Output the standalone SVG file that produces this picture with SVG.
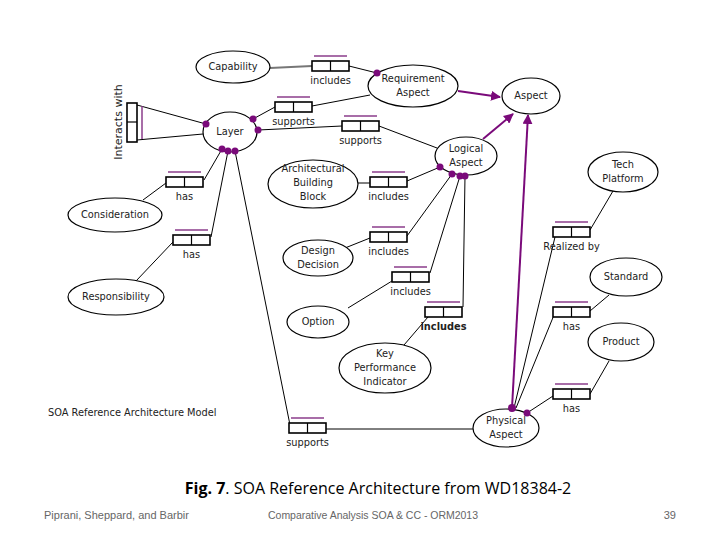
<svg xmlns="http://www.w3.org/2000/svg" width="720" height="540" viewBox="0 0 720 540">
<style>
.n ellipse{fill:#fff;stroke:#000;stroke-width:1.2}
.t{font-family:"DejaVu Sans",sans-serif;font-size:9.8px;fill:#222;text-anchor:middle}
.b rect{fill:#fff;stroke:#000;stroke-width:1.6}
.b line.d{stroke:#000;stroke-width:1.2}
.b line.p{stroke:#8b3c8b;stroke-width:1.5}
.c line,.c polyline{stroke:#000;stroke-width:1;fill:none}
.c .pu{stroke:#7a0a7a;stroke-width:2}
.dot{fill:#7a0a7a}
</style>
<defs>
<marker id="ah" viewBox="0 0 10 10" refX="9" refY="5" markerWidth="5" markerHeight="5" orient="auto" markerUnits="strokeWidth"><path d="M0,0 L10,5 L0,10 z" fill="#7a0a7a"/></marker>
</defs>
<rect width="720" height="540" fill="#fff"/>

<g id="connectors" class="c">
<line x1="270" y1="68" x2="312" y2="66" style="stroke:#777;stroke-width:2.2"/>
<line x1="349" y1="66" x2="377" y2="73"/>
<line x1="253" y1="119" x2="275" y2="107"/>
<line x1="312" y1="106" x2="370" y2="95"/>
<line x1="258" y1="130" x2="342" y2="126"/>
<line x1="379" y1="126" x2="437" y2="148"/>
<line x1="137" y1="105" x2="206" y2="124"/>
<line x1="137" y1="140" x2="203" y2="134"/>
<line x1="222" y1="149" x2="204" y2="180"/>
<line x1="166" y1="183" x2="143" y2="200"/>
<line x1="228" y1="151" x2="211" y2="237"/>
<line x1="173" y1="242" x2="136" y2="281"/>
<line x1="235" y1="151" x2="290" y2="425"/>
<line x1="326" y1="429" x2="473" y2="429"/>
<line x1="358" y1="183" x2="370" y2="183"/>
<line x1="407" y1="181" x2="440" y2="167"/>
<line x1="345" y1="248" x2="370" y2="238"/>
<line x1="407" y1="236" x2="452" y2="174"/>
<line x1="430" y1="273" x2="460" y2="176"/>
<line x1="392" y1="281" x2="348" y2="308"/>
<line x1="465" y1="176" x2="463" y2="307"/>
<line x1="428" y1="317" x2="404" y2="345"/>
<line x1="590" y1="230" x2="613" y2="191"/>
<line x1="555" y1="237" x2="514" y2="408"/>
<line x1="590" y1="311" x2="609" y2="295"/>
<line x1="554" y1="315" x2="516" y2="408"/>
<line x1="590" y1="394" x2="609" y2="361"/>
<line x1="553" y1="396" x2="527" y2="413"/>
<line class="pu" x1="458" y1="91" x2="500" y2="97" marker-end="url(#ah)"/>
<line class="pu" x1="483" y1="139" x2="513" y2="114" marker-end="url(#ah)"/>
<line class="pu" x1="512" y1="408" x2="528" y2="115" marker-end="url(#ah)"/>
</g>

<g id="capability" class="n"><ellipse cx="233" cy="67" rx="37" ry="16"/><text class="t" x="233" y="70">Capability</text></g>
<g id="layer" class="n"><ellipse cx="230" cy="132" rx="27" ry="20"/><text class="t" x="230" y="135">Layer</text></g>
<g id="requirement-aspect" class="n"><ellipse cx="413" cy="86" rx="45" ry="21"/><text class="t" x="413" y="82">Requirement</text><text class="t" x="413" y="96">Aspect</text></g>
<g id="aspect" class="n"><ellipse cx="531" cy="96" rx="29" ry="18"/><text class="t" x="531" y="99">Aspect</text></g>
<g id="logical-aspect" class="n"><ellipse cx="466" cy="156" rx="31" ry="19"/><text class="t" x="466" y="152">Logical</text><text class="t" x="466" y="166">Aspect</text></g>
<g id="abb" class="n"><ellipse cx="313" cy="184" rx="45" ry="24"/><text class="t" x="313" y="172">Architectural</text><text class="t" x="313" y="186">Building</text><text class="t" x="313" y="200">Block</text></g>
<g id="design-decision" class="n"><ellipse cx="318" cy="258" rx="35" ry="18"/><text class="t" x="318" y="254">Design</text><text class="t" x="318" y="268">Decision</text></g>
<g id="option" class="n"><ellipse cx="318" cy="322" rx="31" ry="16"/><text class="t" x="318" y="325">Option</text></g>
<g id="kpi" class="n"><ellipse cx="385" cy="368" rx="46" ry="25"/><text class="t" x="385" y="357">Key</text><text class="t" x="385" y="371">Performance</text><text class="t" x="385" y="385">Indicator</text></g>
<g id="physical-aspect" class="n"><ellipse cx="506" cy="428" rx="33" ry="19"/><text class="t" x="506" y="424">Physical</text><text class="t" x="506" y="438">Aspect</text></g>
<g id="consideration" class="n"><ellipse cx="115" cy="215" rx="47" ry="17"/><text class="t" x="115" y="218">Consideration</text></g>
<g id="responsibility" class="n"><ellipse cx="116" cy="297" rx="48" ry="18"/><text class="t" x="116" y="300">Responsibility</text></g>
<g id="tech-platform" class="n"><ellipse cx="623" cy="172" rx="35" ry="20"/><text class="t" x="623" y="168">Tech</text><text class="t" x="623" y="182">Platform</text></g>
<g id="standard" class="n"><ellipse cx="626" cy="277" rx="36" ry="19"/><text class="t" x="626" y="280">Standard</text></g>
<g id="product" class="n"><ellipse cx="621" cy="342" rx="33" ry="19"/><text class="t" x="621" y="345">Product</text></g>

<g id="interacts-with" class="b">
<rect x="127" y="103" width="10" height="39"/><line class="d" x1="127" y1="122" x2="137" y2="122"/>
<line class="p" x1="142" y1="106" x2="142" y2="139"/>
<text class="t" transform="translate(122,122) rotate(-90)" style="font-size:11px">Interacts with</text>
</g>
<g id="r-includes1" class="b" transform="translate(312,61)"><line class="p" x1="2" y1="-5" x2="35" y2="-5"/><rect width="37" height="10"/><line class="d" x1="18.5" y1="0" x2="18.5" y2="10"/><text class="t" x="18.5" y="23">includes</text></g>
<g id="r-supports1" class="b" transform="translate(275,102)"><line class="p" x1="2" y1="-5" x2="35" y2="-5"/><rect width="37" height="10"/><line class="d" x1="18.5" y1="0" x2="18.5" y2="10"/><text class="t" x="18.5" y="23">supports</text></g>
<g id="r-supports2" class="b" transform="translate(342,121)"><line class="p" x1="2" y1="-5" x2="35" y2="-5"/><rect width="37" height="10"/><line class="d" x1="18.5" y1="0" x2="18.5" y2="10"/><text class="t" x="18.5" y="23">supports</text></g>
<g id="r-has1" class="b" transform="translate(166,177)"><line class="p" x1="2" y1="-5" x2="35" y2="-5"/><rect width="37" height="10"/><line class="d" x1="18.5" y1="0" x2="18.5" y2="10"/><text class="t" x="18.5" y="23">has</text></g>
<g id="r-has2" class="b" transform="translate(173,235)"><line class="p" x1="2" y1="-5" x2="35" y2="-5"/><rect width="37" height="10"/><line class="d" x1="18.5" y1="0" x2="18.5" y2="10"/><text class="t" x="18.5" y="23">has</text></g>
<g id="r-includes-abb" class="b" transform="translate(370,177)"><line class="p" x1="2" y1="-5" x2="35" y2="-5"/><rect width="37" height="10"/><line class="d" x1="18.5" y1="0" x2="18.5" y2="10"/><text class="t" x="18.5" y="23">includes</text></g>
<g id="r-includes-dd" class="b" transform="translate(370,232)"><line class="p" x1="2" y1="-5" x2="35" y2="-5"/><rect width="37" height="10"/><line class="d" x1="18.5" y1="0" x2="18.5" y2="10"/><text class="t" x="18.5" y="23">includes</text></g>
<g id="r-includes-opt" class="b" transform="translate(392,272)"><line class="p" x1="2" y1="-5" x2="35" y2="-5"/><rect width="37" height="10"/><line class="d" x1="18.5" y1="0" x2="18.5" y2="10"/><text class="t" x="18.5" y="23">includes</text></g>
<g id="r-includes-kpi" class="b" transform="translate(425,307)"><line class="p" x1="2" y1="-5" x2="35" y2="-5"/><rect width="37" height="10"/><line class="d" x1="18.5" y1="0" x2="18.5" y2="10"/><text class="t" x="18.5" y="23" font-weight="bold">includes</text></g>
<g id="r-supports3" class="b" transform="translate(289,423)"><line class="p" x1="2" y1="-5" x2="35" y2="-5"/><rect width="37" height="10"/><line class="d" x1="18.5" y1="0" x2="18.5" y2="10"/><text class="t" x="18.5" y="23">supports</text></g>
<g id="r-realized" class="b" transform="translate(553,227)"><line class="p" x1="2" y1="-5" x2="35" y2="-5"/><rect width="37" height="10"/><line class="d" x1="18.5" y1="0" x2="18.5" y2="10"/><text class="t" x="18.5" y="23">Realized by</text></g>
<g id="r-has3" class="b" transform="translate(553,307)"><line class="p" x1="2" y1="-5" x2="35" y2="-5"/><rect width="37" height="10"/><line class="d" x1="18.5" y1="0" x2="18.5" y2="10"/><text class="t" x="18.5" y="23">has</text></g>
<g id="r-has4" class="b" transform="translate(553,389)"><line class="p" x1="2" y1="-5" x2="35" y2="-5"/><rect width="37" height="10"/><line class="d" x1="18.5" y1="0" x2="18.5" y2="10"/><text class="t" x="18.5" y="23">has</text></g>

<g id="dots">
<circle class="dot" cx="206" cy="124" r="3.5"/><circle class="dot" cx="253" cy="119" r="3.5"/><circle class="dot" cx="258" cy="130" r="3.5"/>
<circle class="dot" cx="222" cy="149" r="3.5"/><circle class="dot" cx="228" cy="151" r="3.5"/><circle class="dot" cx="235" cy="151" r="3.5"/>
<circle class="dot" cx="377" cy="73" r="3.5"/>
<circle class="dot" cx="440" cy="167" r="3.5"/><circle class="dot" cx="452" cy="174" r="3.5"/><circle class="dot" cx="460" cy="176" r="3.5"/><circle class="dot" cx="465" cy="176" r="3.5"/>
<circle class="dot" cx="512" cy="408" r="4"/><circle class="dot" cx="527" cy="413" r="3.5"/>
</g>

<text x="48" y="416" style="font-family:'DejaVu Sans',sans-serif;font-size:9.8px;fill:#222">SOA Reference Architecture Model</text>
<text x="378" y="494" text-anchor="middle" style="font-family:'Open Sans',sans-serif;font-size:16px;fill:#000"><tspan font-weight="bold">Fig. 7</tspan>. SOA Reference Architecture from WD18384-2</text>
<text x="44" y="519" style="font-family:'Liberation Sans',sans-serif;font-size:11px;fill:#666">Piprani,  Sheppard, and  Barbir</text>
<text x="268" y="519" textLength="210" style="font-family:'Liberation Sans',sans-serif;font-size:10.5px;fill:#666">Comparative Analysis SOA &amp; CC - ORM2013</text>
<text x="676" y="519" text-anchor="end" style="font-family:'Liberation Sans',sans-serif;font-size:11px;fill:#666">39</text>
</svg>
